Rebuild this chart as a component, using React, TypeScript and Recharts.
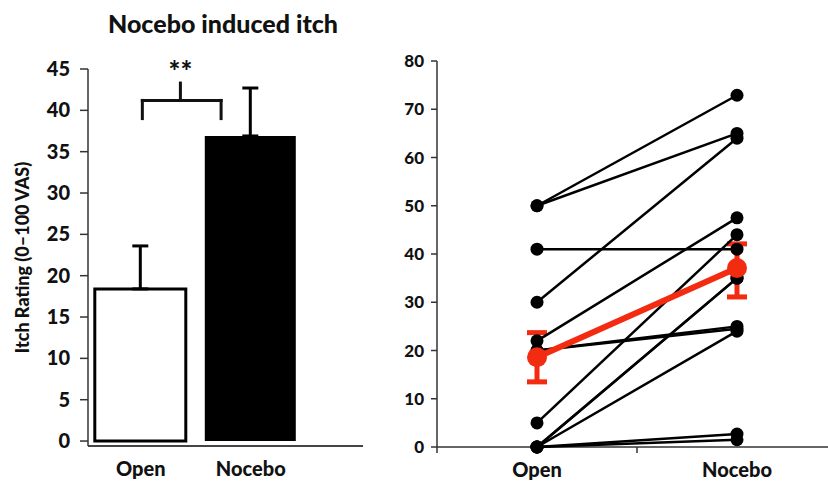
import {
  ComposedChart,
  Bar,
  Cell,
  Scatter,
  XAxis,
  YAxis,
  ErrorBar,
  ReferenceLine,
  ReferenceDot,
} from 'recharts';

// left panel: group means
const barCategories = ['Open', 'Nocebo'];
const barPositions = [1, 2];
const barMeans = [18.4, 36.9];
const barErrors = [5.2, 5.8];
const leftTicks = [0, 5, 10, 15, 20, 25, 30, 35, 40, 45];

// right panel: individual ratings (Open -> Nocebo)
const openRatings = [50, 50, 41, 30, 22, 20, 20, 5, 0, 0, 0, 0, 0];
const noceboRatings = [72.9, 65, 41, 64, 47.5, 25, 24.5, 44, 35, 35, 24, 2.7, 1.5];
const meanRatings = [18.6, 37.1];
const meanErrLow = [5.1, 6];
const meanErrHigh = [5.1, 5];
const rightTicks = [0, 10, 20, 30, 40, 50, 60, 70, 80];
const dividerTicks = [0.5, 1.5];

const RED = '#f32b10';
const FONT = 'Lato, "Open Sans", sans-serif';
const W = 900;

const barData = barCategories.map((name, i) => ({
  name,
  pos: barPositions[i],
  value: barMeans[i],
  err: [0, barErrors[i]],
}));

const subjects = openRatings.map((o, i) => [
  { x: barPositions[0], y: o },
  { x: barPositions[1], y: noceboRatings[i] },
]);

const meanData = meanRatings.map((m, i) => ({
  x: barPositions[i],
  y: m,
  err: [meanErrLow[i], meanErrHigh[i]],
}));

// bracket for the significance mark
const bracketLeft = 1.014;
const bracketRight = 1.73;
const bracketMid = 1.36;
const bracketLow = 39;
const bracketHigh = 41.2;
const bracketTop = 43.3;

const BlackDot = (props: any) => <circle cx={props.cx} cy={props.cy} r={6.5} fill="#000" />;
const RedDot = (props: any) => <circle cx={props.cx} cy={props.cy} r={10} fill={RED} />;

const RightTick = ({ x, y, payload }: any) => {
  const v = payload.value;
  if (dividerTicks.includes(v)) {
    return <line x1={x} x2={x} y1={y} y2={y + 6} stroke="#333" strokeWidth={1.5} />;
  }
  const idx = barPositions.indexOf(v);
  return (
    <text x={x} y={y + 30} textAnchor="middle" fontSize={20} fontWeight={W} fill="#111" fontFamily={FONT}>
      {barCategories[idx]}
    </text>
  );
};

const bracketStyle = { stroke: '#111', strokeWidth: 3, strokeLinecap: 'square' as const };

export default function App() {
  return (
    <div style={{ position: 'absolute', left: 0, top: 0, width: 828, height: 481, background: '#fff', fontFamily: FONT }}>
      <div
        style={{
          position: 'absolute',
          left: 0,
          top: 8,
          width: 446,
          textAlign: 'center',
          fontSize: 25,
          fontWeight: W,
          color: '#111',
        }}
      >
        Nocebo induced itch
      </div>

      <div style={{ position: 'absolute', left: 0, top: 0 }}>
        <ComposedChart width={400} height={481} data={barData} margin={{ top: 69, right: 37, bottom: 0, left: 0 }}>
          <XAxis
            type="number"
            dataKey="pos"
            domain={[0.52, 3.02]}
            ticks={barPositions}
            tickFormatter={(v) => barCategories[barPositions.indexOf(v)]}
            tickLine={false}
            tickSize={0}
            tickMargin={16}
            height={35}
            axisLine={{ stroke: '#444', strokeWidth: 2 }}
            tick={{ fontSize: 20, fontWeight: W, fill: '#111', fontFamily: FONT }}
            allowDataOverflow
          />
          <YAxis
            type="number"
            domain={[-0.6, 45]}
            ticks={leftTicks}
            width={88}
            tickSize={8}
            tickMargin={10}
            axisLine={{ stroke: '#333', strokeWidth: 1.5 }}
            tickLine={{ stroke: '#333', strokeWidth: 1.5 }}
            tick={{ fontSize: 20, fontWeight: W, fill: '#111', fontFamily: FONT }}
            allowDataOverflow
            label={{
              value: 'Itch Rating (0–100 VAS)',
              angle: -90,
              position: 'insideLeft',
              offset: 23,
              style: { textAnchor: 'middle', fontSize: 18, fontWeight: W, fill: '#111', fontFamily: FONT },
            }}
          />
          <Bar dataKey="value" barSize={91} isAnimationActive={false}>
            {barData.map((d, i) => (
              <Cell
                key={`bar-${d.name}`}
                fill={i === 0 ? '#fff' : '#000'}
                stroke="#000"
                strokeWidth={i === 0 ? 3 : 0}
              />
            ))}
            <ErrorBar dataKey="err" direction="y" width={8} strokeWidth={3} stroke="#000" />
          </Bar>
          <ReferenceLine segment={[{ x: bracketLeft, y: bracketLow }, { x: bracketLeft, y: bracketHigh }]} {...bracketStyle} />
          <ReferenceLine segment={[{ x: bracketRight, y: bracketLow }, { x: bracketRight, y: bracketHigh }]} {...bracketStyle} />
          <ReferenceLine segment={[{ x: bracketLeft, y: bracketHigh }, { x: bracketRight, y: bracketHigh }]} {...bracketStyle} />
          <ReferenceLine segment={[{ x: bracketMid, y: bracketHigh }, { x: bracketMid, y: bracketTop }]} {...bracketStyle} />
          <ReferenceDot
            x={bracketMid}
            y={bracketTop}
            r={0}
            fill="none"
            stroke="none"
            label={{ value: '**', position: 'top', offset: 2, fontSize: 28, fontWeight: W, fill: '#111', fontFamily: FONT }}
          />
        </ComposedChart>
      </div>

      <div style={{ position: 'absolute', left: 380, top: 0 }}>
        <ComposedChart width={448} height={481} margin={{ top: 61, right: 0, bottom: 0, left: 17 }}>
          <XAxis
            type="number"
            dataKey="x"
            domain={[0.5, 2.455]}
            ticks={[0.5, 1, 1.5, 2]}
            tick={<RightTick />}
            tickLine={false}
            tickSize={0}
            tickMargin={0}
            height={34}
            axisLine={{ stroke: '#333', strokeWidth: 1.5 }}
            allowDataOverflow
          />
          <YAxis
            type="number"
            dataKey="y"
            domain={[0, 80]}
            ticks={rightTicks}
            width={40}
            tickSize={6}
            tickMargin={7}
            axisLine={{ stroke: '#333', strokeWidth: 1.5 }}
            tickLine={{ stroke: '#333', strokeWidth: 1.5 }}
            tick={{ fontSize: 17, fontWeight: W, fill: '#111', fontFamily: FONT }}
          />
          {subjects.map((s, i) => (
            <Scatter
              key={`subject-${i}`}
              data={s}
              fill="#000"
              line={{ stroke: '#000', strokeWidth: 2.5 }}
              shape={<BlackDot />}
              isAnimationActive={false}
            />
          ))}
          <Scatter
            data={meanData}
            fill={RED}
            line={{ stroke: RED, strokeWidth: 6 }}
            shape={<RedDot />}
            isAnimationActive={false}
          >
            <ErrorBar dataKey="err" direction="y" width={10} strokeWidth={5} stroke={RED} />
          </Scatter>
        </ComposedChart>
      </div>
    </div>
  );
}
